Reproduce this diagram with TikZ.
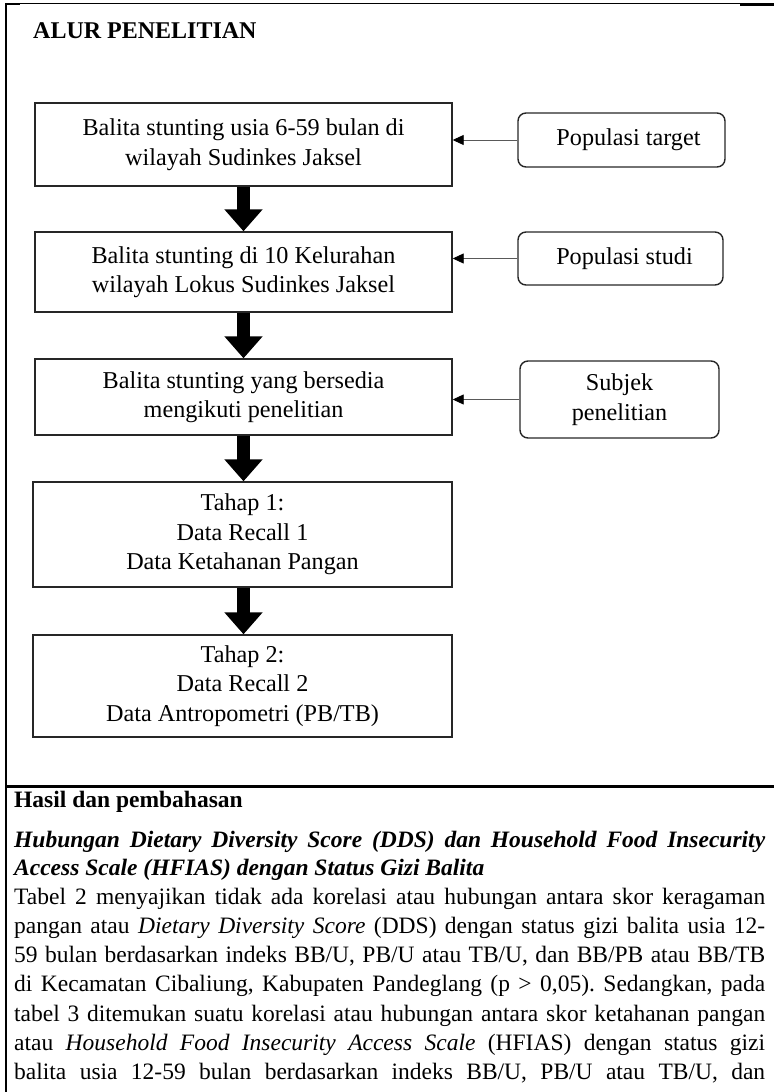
\documentclass[tikz,border=0pt]{standalone}
\usepackage{fontspec}
\setmainfont{Liberation Serif}
\usetikzlibrary{arrows.meta}
\frenchspacing
\begin{document}
\begin{tikzpicture}[x=1pt,y=-1pt,
  mainbox/.style={draw=black!85, line width=1.4pt, minimum width=417pt, align=center, inner sep=0pt, font=\fontsize{24.2}{29.5}\selectfont},
  sidebox/.style={draw=black!85, line width=1.4pt, rounded corners=8pt, align=center, inner sep=0pt, font=\fontsize{24.2}{29.5}\selectfont},
  bigarrow/.style={line width=13pt, -{Triangle[width=37pt,length=22pt]}},
  thinarrow/.style={draw=black!65, line width=0.9pt, -{Triangle[width=10pt,length=11pt,color=black]}},
  bodyline/.style={anchor=base west, inner sep=0pt, font=\fontsize{23.5}{29}\selectfont},
  headline/.style={anchor=base west, inner sep=0pt, font=\fontsize{23.5}{29}\selectfont\bfseries\itshape}
]
\useasboundingbox (0,0) rectangle (774,1092);

% frame
\draw[line width=2pt] (6,3) -- (6,1092);
\draw[line width=1.2pt] (5,3.5) -- (774,3.5);
\draw[line width=2.6pt] (5,4) -- (20,4);
\draw[line width=2.6pt] (740,4.5) -- (774,4.5);
\draw[line width=3pt] (5,786) -- (774,786);

% title
\node[anchor=base west, inner sep=0pt, font=\fontsize{24}{29}\selectfont\bfseries] (title) at (33,38) {ALUR PENELITIAN};

% main boxes
\node[mainbox, minimum height=83pt] (b1) at (243.5,144.5) {Balita stunting usia 6-59 bulan di\\wilayah Sudinkes Jaksel};
\node[mainbox, minimum height=80pt] (b2) at (243.5,272) {Balita stunting di 10 Kelurahan\\wilayah Lokus Sudinkes Jaksel};
\node[mainbox, minimum height=76pt] (b3) at (243.5,397) {Balita stunting yang bersedia\\mengikuti penelitian};
\node[mainbox, minimum height=105pt, minimum width=419pt] (b4) at (242.5,534.5) {Tahap 1:\\Data Recall 1\\Data Ketahanan Pangan};
\node[mainbox, minimum height=102pt, minimum width=419pt] (b5) at (242.5,686) {Tahap 2:\\Data Recall 2\\Data Antropometri (PB/TB)};

% side boxes
\node[sidebox, minimum width=207pt, minimum height=54pt] (r1) at (621.5,140) {\hspace*{14pt}Populasi target};
\node[sidebox, minimum width=205pt, minimum height=53pt] (r2) at (620.5,258.5) {\hspace*{8pt}Populasi studi};
\node[sidebox, minimum width=199pt, minimum height=77pt] (r3) at (619.5,399.5) {Subjek\\penelitian};

% thick arrows
\draw[bigarrow] (b1.south) -- (b2.north);
\draw[bigarrow] (b2.south) -- (b3.north);
\draw[bigarrow] (b3.south) -- (b3.south |- b4.north);
\draw[bigarrow] (b4.south -| b3.south) -- (b3.south |- b5.north);

% thin arrows
\draw[thinarrow] (r1.west) -- (r1.west -| b1.east);
\draw[thinarrow] (r2.west) -- (r2.west -| b2.east);
\draw[thinarrow] (r3.west) -- (r3.west -| b3.east);

% lower text
\node[anchor=base west, inner sep=0pt, font=\fontsize{23.5}{29}\selectfont\bfseries] (hasil) at (14,807) {Hasil dan pembahasan};
\node[headline] (h1) at (14,847) {\makebox[751pt][s]{Hubungan Dietary Diversity Score (DDS) dan Household Food Insecurity}};
\node[headline] (h2) at (14,875) {Access Scale (HFIAS) dengan Status Gizi Balita};
\node[bodyline] (p1) at (14,904) {\makebox[751pt][s]{Tabel 2 menyajikan tidak ada korelasi atau hubungan antara skor keragaman}};
\node[bodyline] (p2) at (14,933.3) {\makebox[751pt][s]{pangan atau \textit{Dietary Diversity Score} (DDS) dengan status gizi balita usia 12-}};
\node[bodyline] (p3) at (14,962.6) {\makebox[751pt][s]{59 bulan berdasarkan indeks BB/U, PB/U atau TB/U, dan BB/PB atau BB/TB}};
\node[bodyline] (p4) at (14,991.9) {\makebox[751pt][s]{di Kecamatan Cibaliung, Kabupaten Pandeglang (p > 0,05). Sedangkan, pada}};
\node[bodyline] (p5) at (14,1021.2) {\makebox[751pt][s]{tabel 3 ditemukan suatu korelasi atau hubungan antara skor ketahanan pangan}};
\node[bodyline] (p6) at (14,1050.5) {\makebox[751pt][s]{atau \textit{Household Food Insecurity Access Scale} (HFIAS) dengan status gizi}};
\node[bodyline] (p7) at (14,1079.8) {\makebox[751pt][s]{balita usia 12-59 bulan berdasarkan indeks BB/U, PB/U atau TB/U, dan}};
\end{tikzpicture}
\end{document}
